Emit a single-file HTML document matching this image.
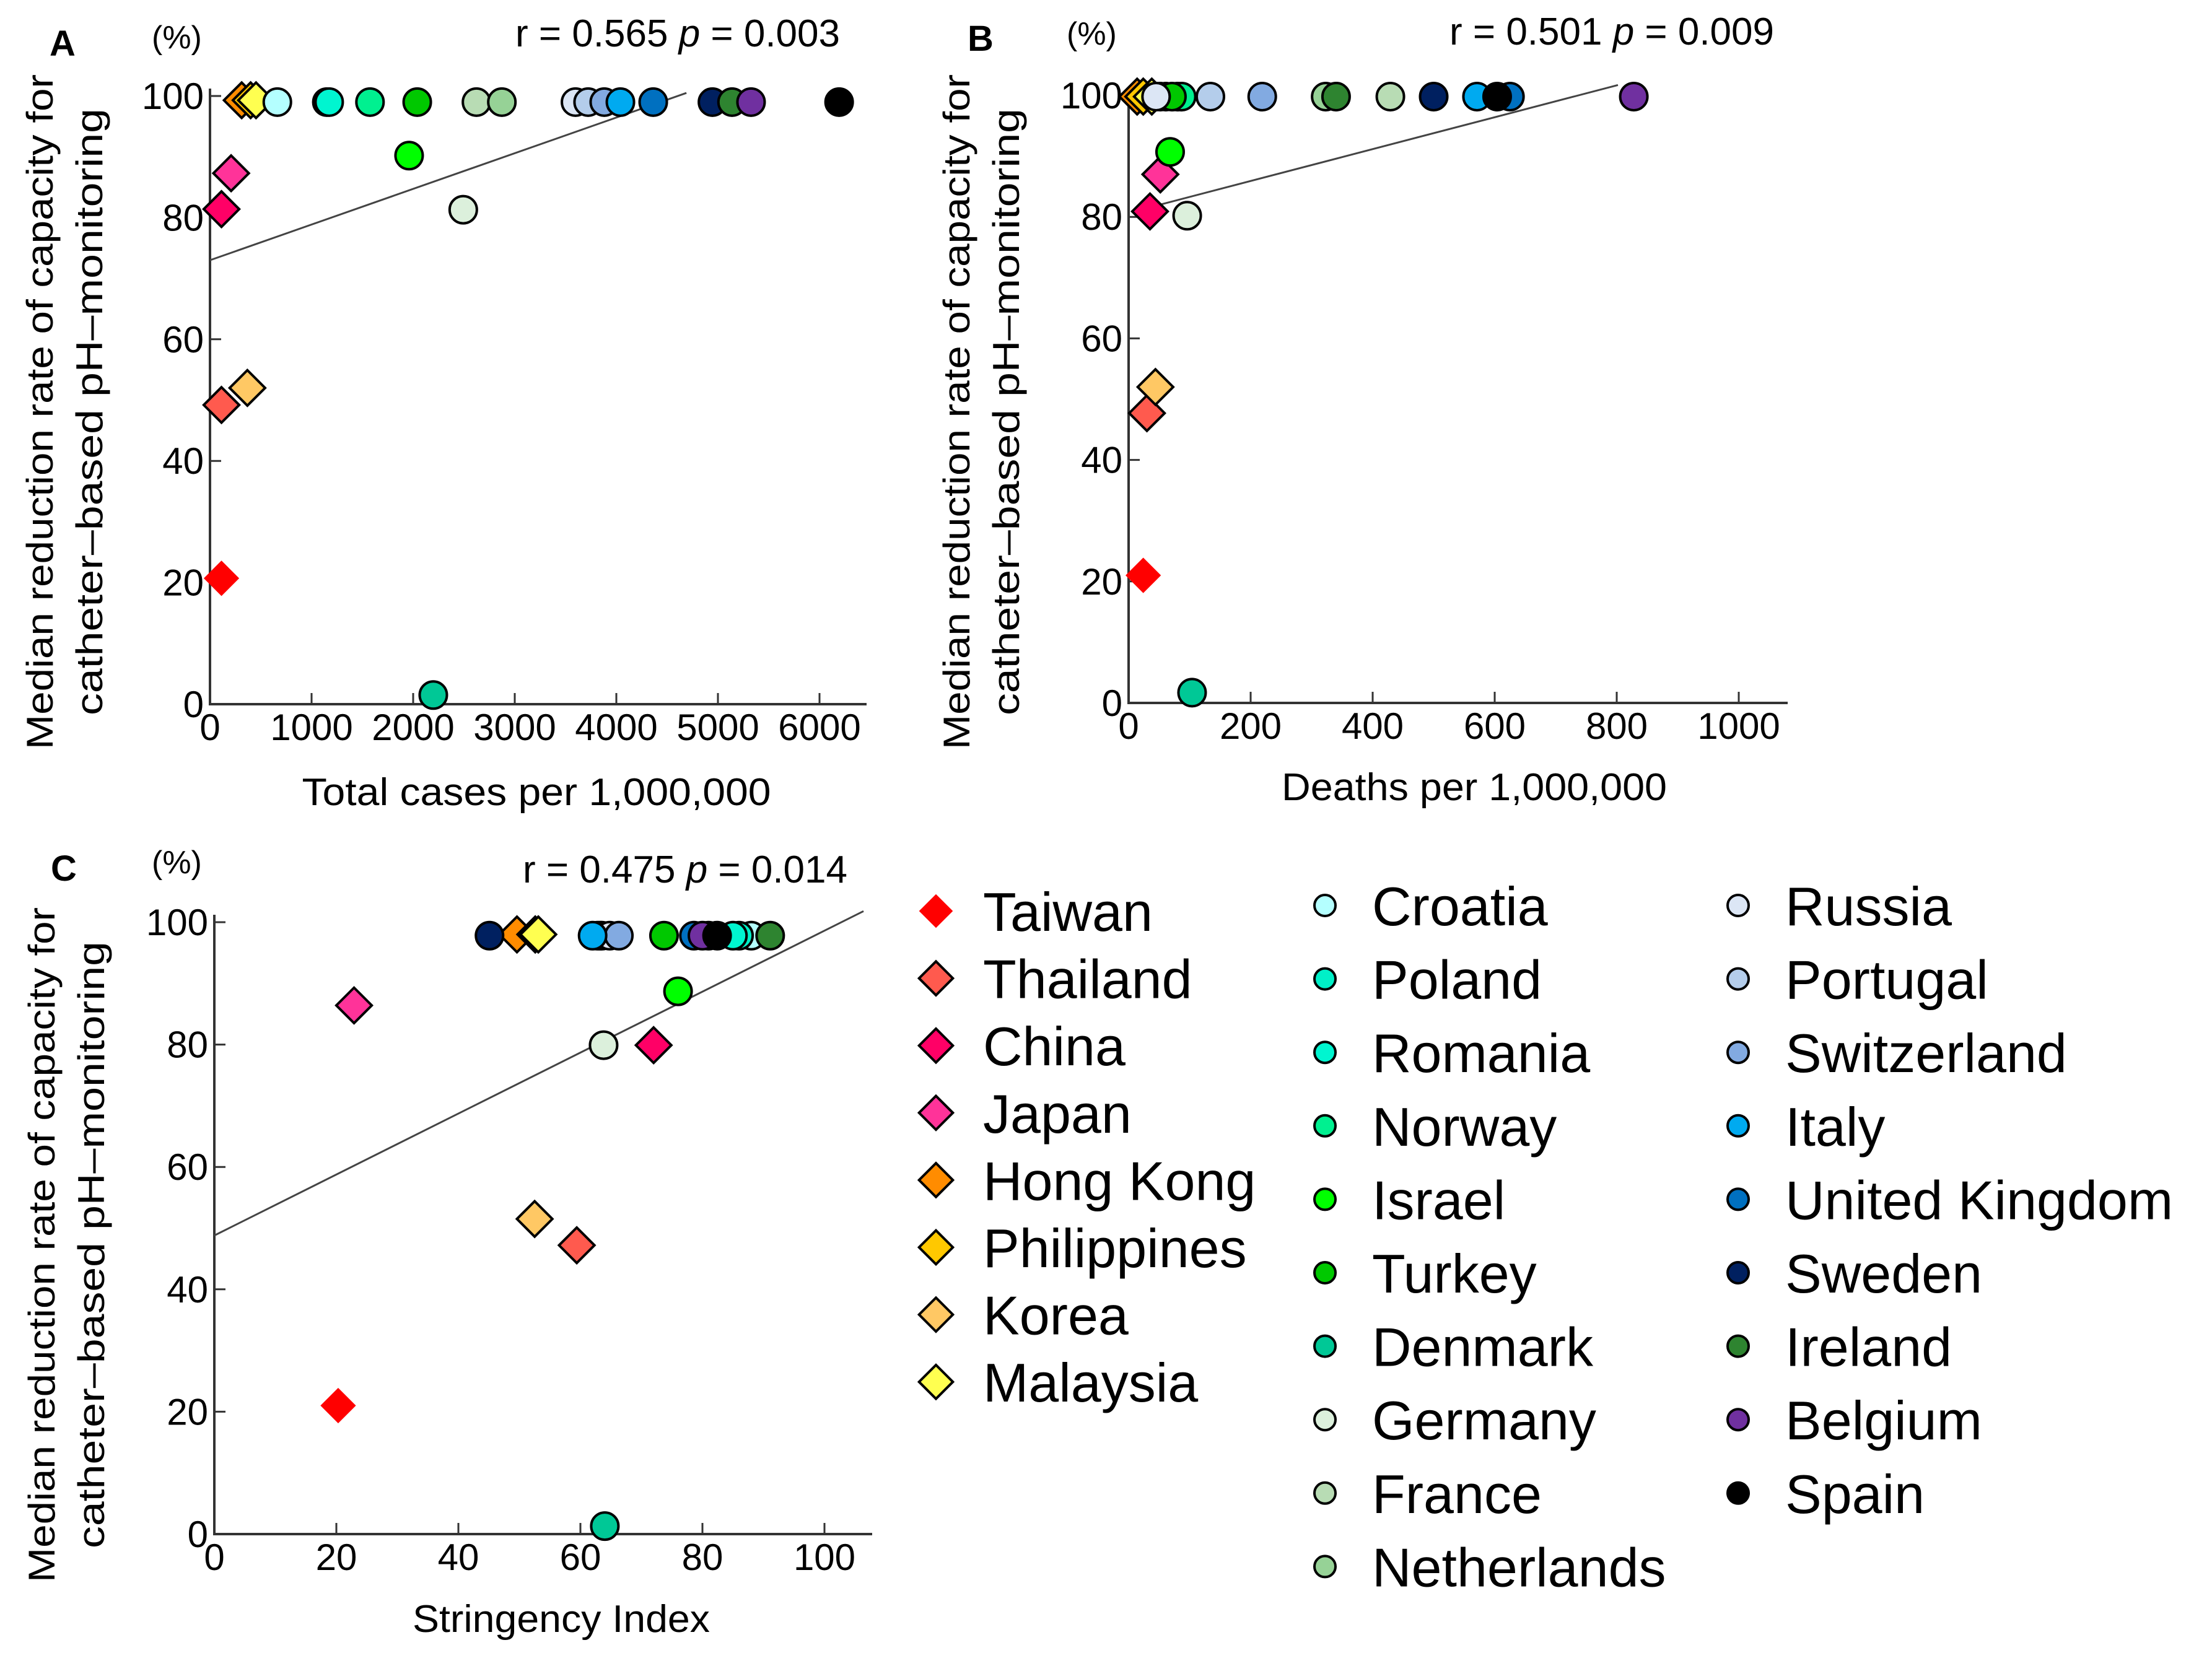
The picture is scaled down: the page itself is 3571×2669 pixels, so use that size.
<!DOCTYPE html>
<html><head><meta charset="utf-8"><style>
html,body{margin:0;padding:0;background:#fff;}
svg{display:block;font-family:"Liberation Sans",sans-serif;}
</style></head><body>
<svg id="fig" width="3571" height="2669" viewBox="0 0 3571 2669">
<g id="root"></g>
</svg>
<script>
const countries=["Taiwan","Thailand","China","Japan","Hong Kong","Philippines","Korea","Malaysia","Croatia","Poland","Romania","Norway","Israel","Turkey","Denmark","Germany","France","Netherlands","Russia","Portugal","Switzerland","Italy","United Kingdom","Sweden","Ireland","Belgium","Spain"];
const colors=["#ff0000","#ff5a4e","#ff0066","#ff3399","#ff8c00","#ffc800","#ffc864","#ffff50","#b4ffff","#00f0c8","#00f5d0","#00f090","#00ff00","#00c800","#00c896","#dcf0dc","#b8dcb4","#96d296","#dce6f5","#b4cdeb","#82aae1","#00aaf0","#0070c0","#002060","#2e8430","#7030a0","#000000"];
const shapes=["d","d","d","d","d","d","d","d","c","c","c","c","c","c","c","c","c","c","c","c","c","c","c","c","c","c","c"];
const casesX=[113,113,113,208,312,400,368,453,663,1150,1173,1575,1960,2040,2198,2493,2623,2873,3598,3722,3881,4040,4363,4946,5139,5326,6193];
const casesY=[20.7,49.2,81.4,87.3,99.3,99.3,52,99.3,99,99,99,99,90.2,99,1.5,81.3,99,99,99,99,99,99,99,99,99,99,99];
const deathsX=[24,30,35,52,14,24,44,38,52,61,80,87,68,71,104,96,429,323,45,134,219,571,625,500,340,828,604];
const deathsY=[21,47.7,80.9,87,99.8,99.8,52,99.8,99.8,99.8,99.8,99.8,90.7,99.8,1.7,80.2,99.8,99.8,99.8,99.8,99.8,99.8,99.8,99.8,99.8,99.8,99.8];
const stringX=[20.3,59.4,72,22.9,49.6,52.6,52.5,53.1,88,86,85,63.5,76,73.7,64,63.8,62.8,63.2,64.8,81,66.3,62,78.6,45.1,91.1,80,82.4];
const stringY=[21,47.2,79.9,86.4,98,98,51.5,98,97.8,97.8,97.8,97.8,88.7,97.8,1.3,79.9,97.8,97.8,97.8,97.8,97.8,97.8,97.8,97.8,97.8,97.8,97.8];
const casesTicks=[0,1000,2000,3000,4000,5000,6000];
const deathsTicks=[0,200,400,600,800,1000];
const stringTicks=[0,20,40,60,80,100];
const yTicks=[0,20,40,60,80,100];
const casesFit=[[0,73],[4690,100.5]];
const deathsFit=[[9,80.9],[802,101.7]];
const stringFit=[[0,48.8],[106.4,101.8]];

const NS="http://www.w3.org/2000/svg";
const root=document.getElementById('root');
function mk(tag,attrs,parent,text){const e=document.createElementNS(NS,tag);for(const k in attrs)e.setAttribute(k,attrs[k]);if(text!==undefined)e.textContent=text;(parent||root).appendChild(e);return e;}

function marker(g,shape,cx,cy,col,noStroke,r){
  let e;
  if(shape==="d"){const h=r*1.3;e=mk('polygon',{points:`${cx},${cy-h} ${cx+h},${cy} ${cx},${cy+h} ${cx-h},${cy}`,fill:col,stroke:noStroke?'none':'#000','stroke-width':4},g);}
  else{e=mk('circle',{cx:cx,cy:cy,r:r,fill:col,stroke:'#000','stroke-width':4},g);}
  return e;
}

function panel(p){
  const g=mk('g',{});
  
  
  const sx=v=>p.x0+(v-p.xmin)/(p.xmax-p.xmin)*(p.x1-p.x0);
  const sy=v=>p.y0-(v/100)*(p.y0-p.y100);
  const ax=mk('path',{d:`M${p.x0},${p.y100-12} L${p.x0},${p.y0} L${p.xend},${p.y0}`,fill:'none',stroke:'#333','stroke-width':4},g);
  
  
  yTicks.forEach(t=>{
    mk('line',{x1:p.x0,x2:p.x0+18,y1:sy(t),y2:sy(t),stroke:'#333','stroke-width':3},g);
    const tl=mk('text',{x:p.x0-10,y:sy(t)+21,'font-size':60,'text-anchor':'end'},g,String(t));
    
    
  });
  p.ticks.forEach(t=>{
    mk('line',{x1:sx(t),x2:sx(t),y1:p.y0,y2:p.y0-18,stroke:'#333','stroke-width':3},g);
    const tl=mk('text',{x:sx(t),y:p.y0+58,'font-size':60,'text-anchor':'middle'},g,String(t));
    
    
  });
  const fl=mk('line',{x1:sx(p.fit[0][0]),y1:sy(p.fit[0][1]),x2:sx(p.fit[1][0]),y2:sy(p.fit[1][1]),stroke:'#444','stroke-width':3},g);
  
  
  for(let i=0;i<countries.length;i++){
    const m=marker(g,shapes[i],sx(p.xs[i]),sy(p.ys[i]),colors[i],i===0,22);
    
    
  }
  const L=mk('text',{x:p.lx,y:p.ly,'font-size':58,'font-weight':'bold'},g,p.id);
  
  
  const pc=mk('text',{x:p.px,y:p.py,'font-size':52},g,'(%)');
  
  
  const st=mk('text',{x:p.sx,y:p.sy,'font-size':62,'text-anchor':'end'},g);
  
  
  st.appendChild(document.createTextNode('r = '+p.r+' '));
  mk('tspan',{'font-style':'italic'},st,'p');
  st.appendChild(document.createTextNode(' = '+p.pv));
  const yt=mk('text',{transform:`translate(${p.ytx},${p.ytc}) rotate(-90)`,'font-size':60,'text-anchor':'middle'},g);
  
  
  mk('tspan',{x:0,y:0,textLength:1090,lengthAdjust:'spacingAndGlyphs'},yt,'Median reduction rate of capacity for');
  mk('tspan',{x:0,y:80,textLength:980,lengthAdjust:'spacingAndGlyphs'},yt,'catheter\u2013based pH\u2013monitoring');
  const xt=mk('text',{x:p.xtx,y:p.xty,'font-size':62,'text-anchor':'middle',textLength:p.xtl,lengthAdjust:'spacingAndGlyphs'},g,p.xtitle);
  
  
}

panel({id:'A',x0:339,x1:1323,xmin:0,xmax:6000,xend:1399,y0:1137,y100:155,ticks:casesTicks,xs:casesX,ys:casesY,fit:casesFit,
  lx:80,ly:90,px:245,py:78,sx:1356,sy:75,r:'0.565',pv:'0.003',ytx:85,ytc:665,xtx:866,xty:1300,xtl:757,xtitle:'Total cases per 1,000,000'});
panel({id:'B',x0:1822,x1:2807,xmin:0,xmax:1000,xend:2886,y0:1135,y100:154,ticks:deathsTicks,xs:deathsX,ys:deathsY,fit:deathsFit,
  lx:1562,ly:82,px:1722,py:72,sx:2864,sy:72,r:'0.501',pv:'0.009',ytx:1565,ytc:665,xtx:2380,xty:1292,xtl:622,xtitle:'Deaths per 1,000,000'});
panel({id:'C',x0:346,x1:1331,xmin:0,xmax:100,xend:1408,y0:2477,y100:1489,ticks:stringTicks,xs:stringX,ys:stringY,fit:stringFit,
  lx:82,ly:1422,px:245,py:1410,sx:1368,sy:1425,r:'0.475',pv:'0.014',ytx:88,ytc:2010,xtx:906,xty:2635,xtl:480,xtitle:'Stringency Index'});

const lg=mk('g',{});


const colsX=[1511,2139,2806];
for(let i=0;i<countries.length;i++){
  let col,row;
  if(i<8){col=0;row=i;}else if(i<18){col=1;row=i-8;}else{col=2;row=i-18;}
  const cy=col===0?(1471+row*108.6):(1462+row*118.6);
  const e=mk('g',{},lg);
  
  
  if(shapes[i]==='d') marker(e,'d',colsX[col],cy,colors[i],i===0,21);
  else mk('circle',{cx:colsX[col],cy:cy,r:17,fill:colors[i],stroke:'#000','stroke-width':4},e);
  mk('text',{x:colsX[col]+76,y:cy+32,'font-size':88},e,countries[i]);
}
</script>
</body></html>
